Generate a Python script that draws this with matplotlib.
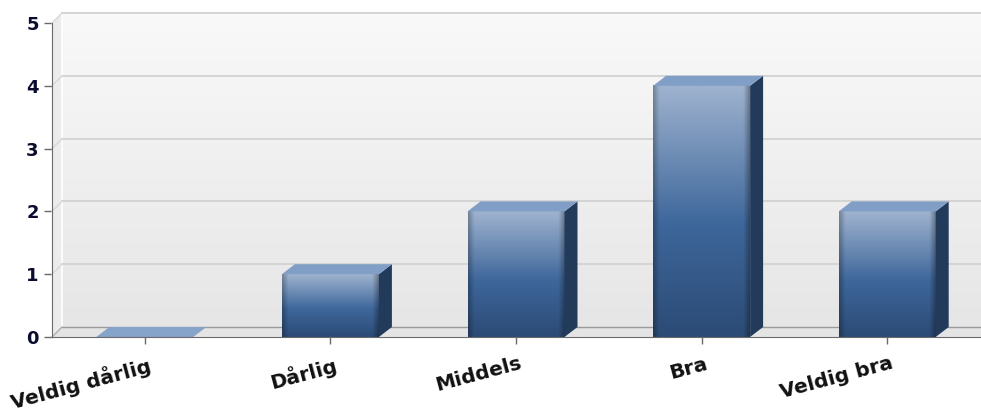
import numpy as np
import matplotlib
matplotlib.use("Agg")
import matplotlib.pyplot as plt
from matplotlib.patches import Polygon
from matplotlib.transforms import blended_transform_factory, offset_copy

# Données
categories = ["Veldig dårlig", "Dårlig", "Middels", "Bra", "Veldig bra"]
values = [0, 1, 2, 4, 2]
yticks = [0, 1, 2, 3, 4, 5]

W, H = 981, 412
fig = plt.figure(figsize=(W / 100, H / 100), dpi=100)
ax = fig.add_axes([52 / W, (H - 337) / H, 928 / W, 314 / H])
ax.set_xlim(-0.5, len(categories) - 0.5)
ax.set_ylim(0, 5)

# conversion pixels -> données
px_x = (len(categories)) / 928
px_y = 5 / 314
wdx, wdy = 10 * px_x, 10 * px_y      # profondeur des murs
bdx, bdy = 13 * px_x, 10 * px_y      # profondeur des barres
xmax = len(categories) - 0.5 + 1 * px_x


def gradient(c1, c2, n=64):
    c1 = np.array(matplotlib.colors.to_rgb(c1))
    c2 = np.array(matplotlib.colors.to_rgb(c2))
    t = np.linspace(0, 1, n)[:, None]
    return (c1 * (1 - t) + c2 * t)[:, None, :]


# Mur du fond
ax.imshow(gradient("#f9f9f9", "#e6e6e6"), extent=[-0.5 + wdx, xmax, wdy, 5 + wdy],
          aspect="auto", zorder=0, clip_on=False, origin="upper")
# Mur de gauche
ax.add_patch(Polygon([(-0.5, 0), (-0.5 + wdx, wdy), (-0.5 + wdx, 5 + wdy), (-0.5, 5)],
                     closed=True, fc="#ececec", ec="none", zorder=1, clip_on=False))
ax.plot([-0.5 + wdx, -0.5 + wdx], [wdy, 5 + wdy], color="white", lw=1.2, zorder=2, clip_on=False)
# Sol
ax.add_patch(Polygon([(-0.5, 0), (-0.5 + wdx, wdy), (xmax, wdy), (xmax, 0)],
                     closed=True, fc="#e4e4e4", ec="none", zorder=1, clip_on=False))
ax.plot([-0.5 + wdx, xmax], [wdy, wdy], color="#9a9a9a", lw=1, zorder=2, clip_on=False)
ax.plot([-0.5, -0.5 + wdx], [0, wdy], color="#b0b0b0", lw=1, zorder=2, clip_on=False)

# Grille
for v in yticks[1:]:
    ax.plot([-0.5 + wdx, xmax], [v + wdy, v + wdy], color="#d2d2d2", lw=1.3, zorder=2, clip_on=False)
    ax.plot([-0.5, -0.5 + wdx], [v, v + wdy], color="#d8d8d8", lw=1, zorder=2, clip_on=False)

# Barres 3D
bw = 97 * px_x
top_c = "#809ec6"
side_c = "#223b5b"
for i, v in enumerate(values):
    x0 = i - bw / 2
    x1 = i + bw / 2
    if v > 0:
        n = 128
        t = np.linspace(0, 1, n)
        c_top = np.array(matplotlib.colors.to_rgb("#9fb3cf"))
        c_mid = np.array(matplotlib.colors.to_rgb("#3e679b"))
        c_bot = np.array(matplotlib.colors.to_rgb("#2c4b76"))
        col = np.where(t[:, None] < 0.55,
                       c_top + (c_mid - c_top) * (t[:, None] / 0.55),
                       c_mid + (c_bot - c_mid) * ((t[:, None] - 0.55) / 0.45))
        u = np.linspace(0, 1, 64)
        shade = 1 - 0.25 * np.clip(1 - u / 0.06, 0, 1) - 0.3 * np.clip((u - 0.94) / 0.06, 0, 1)
        img = col[:, None, :] * shade[None, :, None]
        ax.imshow(np.clip(img, 0, 1), extent=[x0, x1, 0, v], aspect="auto",
                  zorder=4, origin="upper", interpolation="bilinear")
        ax.add_patch(Polygon([(x1, 0), (x1 + bdx, bdy), (x1 + bdx, v + bdy), (x1, v)],
                             closed=True, fc=side_c, ec="none", zorder=4))
    ax.add_patch(Polygon([(x0, v), (x0 + bdx, v + bdy), (x1 + bdx, v + bdy), (x1, v)],
                         closed=True, fc=top_c if v > 0 else "#86a3c9", ec="none", zorder=5))

# Axes
for s in ["top", "right"]:
    ax.spines[s].set_visible(False)
ax.spines["left"].set_color("#6a6a6a")
ax.spines["bottom"].set_color("#6a6a6a")
ax.spines["left"].set_zorder(6)
ax.spines["bottom"].set_zorder(6)
ax.set_yticks(yticks)
ax.set_yticklabels([str(t) for t in yticks], fontsize=13, fontweight="bold",
                   color="#0c0c30", family="DejaVu Sans")
ax.tick_params(axis="y", length=6, width=1, color="#6a6a6a", pad=3.5)
ax.set_xticks(range(len(categories)))
ax.set_xticklabels([])
ax.tick_params(axis="x", length=5, width=1, color="#6a6a6a")

trans = offset_copy(blended_transform_factory(ax.transData, ax.transAxes), fig=fig, x=3, y=-17, units="dots")
for i, c in enumerate(categories):
    ax.text(i, 0, c, transform=trans, rotation=15, rotation_mode="anchor", ha="right", va="top",
            fontsize=14.5, fontweight="bold", color="#111111", family="DejaVu Sans")

fig.savefig("out.png", dpi=100)
